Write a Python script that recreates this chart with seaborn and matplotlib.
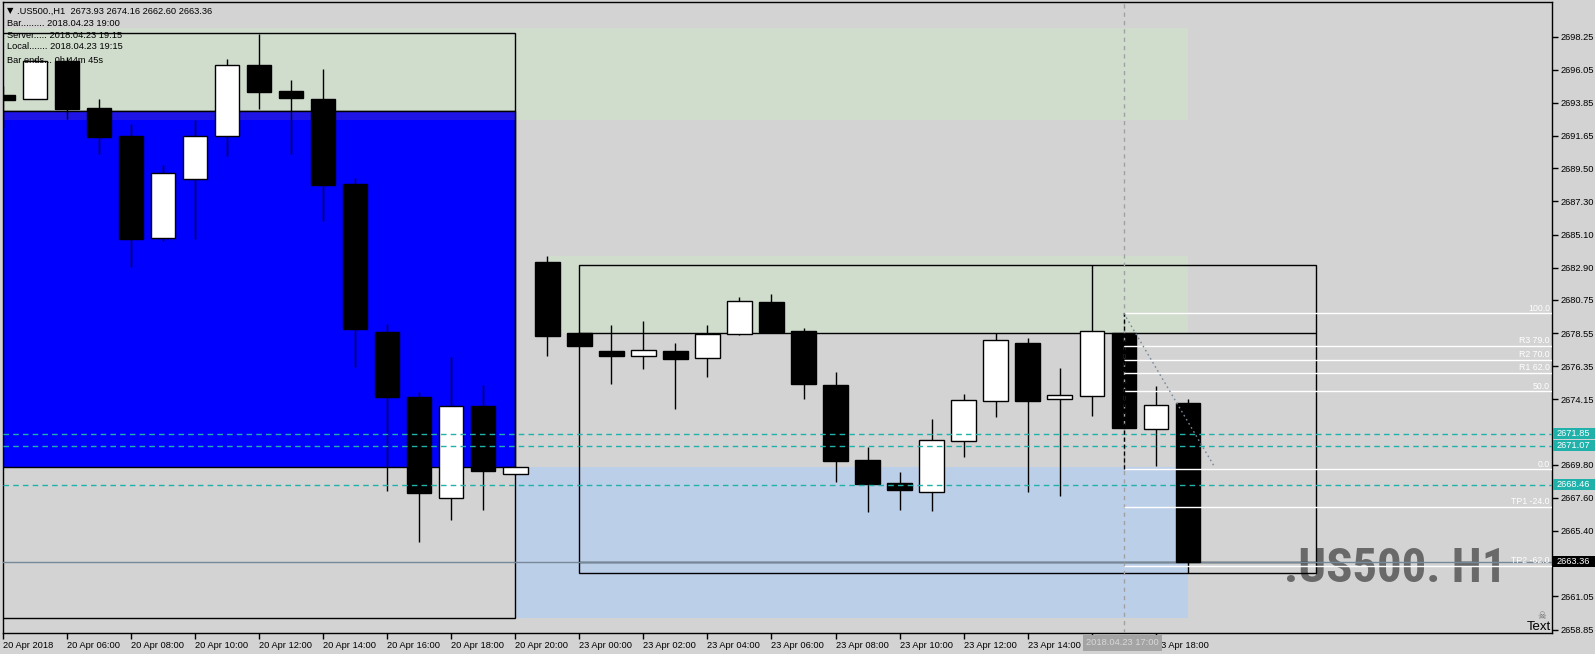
import matplotlib
matplotlib.use("Agg")
import matplotlib.pyplot as plt
import matplotlib.transforms as mtransforms
from matplotlib.patches import Rectangle
from matplotlib import font_manager
import seaborn as sns
import pandas as pd

# ---------------- data ----------------
bar_index = list(range(38))
opens = [2694.34, 2694.08, 2696.65, 2693.51, 2691.62, 2684.85, 2688.81, 2691.67, 2696.36, 2694.63,
         2694.11, 2688.44, 2678.62, 2674.30, 2667.62, 2673.68, 2669.17, 2683.27, 2678.56, 2677.36,
         2677.03, 2677.34, 2676.88, 2678.47, 2680.62, 2678.69, 2675.08, 2670.12, 2668.57, 2668.02,
         2671.40, 2674.06, 2677.92, 2674.15, 2674.35, 2678.54, 2672.15, 2673.93]
highs = [2694.94, 2696.75, 2696.90, 2694.11, 2692.45, 2689.72, 2692.73, 2696.77, 2698.45, 2695.34,
         2696.10, 2688.86, 2679.16, 2674.63, 2676.95, 2675.10, 2669.70, 2683.67, 2678.60, 2679.09,
         2679.35, 2677.89, 2679.09, 2680.95, 2681.15, 2678.89, 2675.96, 2671.00, 2669.32, 2672.84,
         2674.50, 2678.54, 2678.20, 2676.23, 2683.07, 2678.60, 2675.03, 2674.16]
lows = [2692.21, 2694.08, 2692.78, 2690.48, 2682.91, 2684.67, 2684.83, 2690.32, 2693.45, 2690.48,
        2686.02, 2676.31, 2668.05, 2664.68, 2666.16, 2666.82, 2669.10, 2677.02, 2677.70, 2675.17,
        2676.16, 2673.51, 2675.65, 2678.45, 2678.58, 2674.17, 2668.67, 2666.68, 2666.81, 2666.75,
        2670.31, 2672.99, 2668.01, 2667.72, 2673.06, 2672.20, 2669.72, 2662.60]
closes = [2694.06, 2696.60, 2693.45, 2691.59, 2684.83, 2689.17, 2691.62, 2696.34, 2694.58, 2694.20,
          2688.42, 2678.83, 2674.27, 2667.93, 2673.68, 2669.41, 2669.65, 2678.38, 2677.71, 2677.03,
          2677.42, 2676.85, 2678.47, 2680.66, 2678.64, 2675.19, 2670.07, 2668.52, 2668.14, 2671.42,
          2674.08, 2678.09, 2674.06, 2674.41, 2678.67, 2672.26, 2673.75, 2663.36]

tick_bars = [0, 2, 4, 6, 8, 10, 12, 14, 16, 18, 20, 22, 24, 26, 28, 30, 32, 34, 36]
# the 16:00 label is hidden under the crosshair time label in the reference
tick_labels = ["20 Apr 2018", "20 Apr 06:00", "20 Apr 08:00", "20 Apr 10:00", "20 Apr 12:00",
               "20 Apr 14:00", "20 Apr 16:00", "20 Apr 18:00", "20 Apr 20:00", "23 Apr 00:00",
               "23 Apr 02:00", "23 Apr 04:00", "23 Apr 06:00", "23 Apr 08:00", "23 Apr 10:00",
               "23 Apr 12:00", "23 Apr 14:00", "", "23 Apr 18:00"]
price_ticks = [2698.25, 2696.05, 2693.85, 2691.65, 2689.50, 2687.30, 2685.10, 2682.90, 2680.75,
               2678.55, 2676.35, 2674.15, 2671.95, 2669.80, 2667.60, 2665.40, 2663.20, 2661.05, 2658.85]
# ticks hidden under the price labels in the reference
hidden_price_ticks = [2671.95, 2663.20]

fib_levels = [2679.86, 2677.68, 2676.75, 2675.92, 2674.68, 2669.50, 2667.01, 2663.08]
fib_labels = ["100.0", "R3 79.0", "R2 70.0", "R1 62.0", "50.0", "0.0", "TP1 -24.0", "TP2 -62.0"]
fib_bar = 35
teal_levels = [2671.85, 2671.07, 2668.46]
teal_labels = ["2671.85", "2671.07", "2668.46"]
bid_price = 2663.36
bid_label = "2663.36"

# zones: (x0, x1, y0, y1)
green_top = (-2, 37, 2692.73, 2698.83)
blue_zone = (-2, 16, 2669.65, 2693.28)
overlap_strip = (-2, 16, 2692.73, 2693.28)
light_blue_zone = (16, 37, 2659.64, 2669.65)
green_mid = (17, 37, 2678.53, 2683.67)
left_box = (-2, 16, 2659.60, 2698.49)
right_box = (18, 41, 2662.60, 2683.07)
right_box_lines = [2678.53, 2663.36]

header = ".US500.,H1  2673.93 2674.16 2662.60 2663.36"
info_lines = ["Bar......... 2018.04.23 19:00", "Server..... 2018.04.23 19:15",
              "Local....... 2018.04.23 19:15", "Bar ends... 0h 44m 45s"]
crosshair_label = "2018.04.23 17:00"
big_title = ".US500. H1"

df = pd.DataFrame({"i": bar_index, "o": opens, "h": highs, "l": lows, "c": closes})

# ---------------- style ----------------
BG = "#D3D3D3"
GREEN = "#D0DCCC"
LBLUE = "#BCCFE8"
TEAL = "#20B2AA"
SLATE = "#778899"

sns.set_theme(style="white", rc={"axes.facecolor": BG, "figure.facecolor": BG})
plt.rcParams["font.family"] = ["Liberation Sans", "DejaVu Sans"]

W, H = 1595, 654
fig = plt.figure(figsize=(W / 100, H / 100), dpi=100)
ax_l, ax_r, ax_t, ax_b = 2.5, 1552, 2.3, 633
ax = fig.add_axes([ax_l / W, 1 - ax_b / H, (ax_r - ax_l) / W, (ax_b - ax_t) / H])
ax.set_facecolor(BG)
ax.set_xlim(-0.01, 48.37)
ax.set_ylim(2658.62, 2700.53)

def rect(z, **kw):
    x0, x1, y0, y1 = z
    ax.add_patch(Rectangle((x0, y0), x1 - x0, y1 - y0, **kw))

rect(green_top, facecolor=GREEN, edgecolor="none", zorder=1)
rect(green_mid, facecolor=GREEN, edgecolor="none", zorder=1)
rect(light_blue_zone, facecolor=LBLUE, edgecolor="none", zorder=1)
rect(blue_zone, facecolor="#0000FF", edgecolor="black", linewidth=1, zorder=1.2)
rect(overlap_strip, facecolor="#1E14E6", edgecolor="none", zorder=1.3)
ax.hlines([blue_zone[3]], blue_zone[0], blue_zone[1], colors="black", linewidth=1, zorder=1.4)
rect(left_box, fill=False, edgecolor="black", linewidth=1, zorder=3)
rect(right_box, fill=False, edgecolor="black", linewidth=1, zorder=3)
ax.hlines(right_box_lines, right_box[0], right_box[1], colors="black", linewidth=1, zorder=3)

# big watermark text
names = {f.name for f in font_manager.fontManager.ttflist}
big_family = next((n for n in ["Impact", "Liberation Sans Narrow", "Roboto Condensed", "DejaVu Sans"]
                   if n in names), "DejaVu Sans")
bt = ax.text(40.0, 2662.01, big_title, fontsize=40, fontweight="bold", fontstretch="condensed",
             family=big_family, color="#696969", ha="left", va="baseline", zorder=2)
fig.canvas.draw()
bw = bt.get_window_extent().width
bt.set_fontsize(40 * 222 / bw)

# bid line
ax.axhline(bid_price, color=SLATE, linewidth=1, zorder=3.5)

# candles
bodies_bottom = [min(o, c) for o, c in zip(opens, closes)]
bodies_h = [max(abs(c - o), 0.06) for o, c in zip(opens, closes)]
body_cols = ["white" if c > o else "black" for o, c in zip(opens, closes)]
ax.vlines(df["i"], df["l"], df["h"], colors="black", linewidth=1, zorder=4)
ax.bar(df["i"], bodies_h, bottom=bodies_bottom, width=0.765, color=body_cols,
       edgecolor="black", linewidth=1, zorder=5)

# teal dashed lines
for lv in teal_levels:
    ax.axhline(lv, color=TEAL, linewidth=1, linestyle=(0, (4, 3)), zorder=6)

# crosshair vertical
ax.axvline(fib_bar, color="#A0A0A0", linewidth=1, linestyle=(0, (3, 3)), zorder=6)

# fibonacci
ax.hlines(fib_levels, fib_bar, 49, colors="white", linewidth=1, zorder=7)
ax.plot([fib_bar, fib_bar], [fib_levels[5], fib_levels[0]], color="black", linewidth=1,
        linestyle=(0, (3, 2)), zorder=7.5)
ax.plot([fib_bar, 37.85], [fib_levels[0], 2669.6], color=SLATE, linewidth=1,
        linestyle=(0, (1.2, 2.2)), zorder=7.5)
for lv, lb in zip(fib_levels, fib_labels):
    ax.text(0.9987, lv + 0.05, lb, transform=mtransforms.blended_transform_factory(ax.transAxes, ax.transData),
            ha="right", va="bottom", fontsize=6.3, color="white", zorder=8)

# axes / ticks
for s in ax.spines.values():
    s.set_color("black")
    s.set_linewidth(1)
ax.yaxis.tick_right()
ax.set_yticks(price_ticks)
ax.set_yticklabels(["" if v in hidden_price_ticks else f"{v:.2f}" for v in price_ticks])
ax.tick_params(axis="y", right=True, left=False, direction="out", length=4, width=1,
               pad=2, labelsize=6.7, colors="black")
ax.set_xticks(tick_bars)
ax.set_xticklabels(tick_labels, ha="left")
ax.tick_params(axis="x", bottom=True, direction="out", length=4, width=1, pad=1.5,
               labelsize=6.7, colors="black")
ax.grid(False)

# right axis price labels
btr = mtransforms.blended_transform_factory(ax.transAxes, ax.transData)
box_h = 0.73
for lv, lb in zip(teal_levels, teal_labels):
    ax.add_patch(Rectangle((1.0006, lv - box_h / 2), 0.0275, box_h, transform=btr,
                           facecolor=TEAL, edgecolor="none", clip_on=False, zorder=20))
    ax.text(1.0032, lv, lb, transform=btr, ha="left", va="center", fontsize=6.7,
            color="white", clip_on=False, zorder=21)
ax.add_patch(Rectangle((1.0006, bid_price - box_h / 2), 0.0275, box_h, transform=btr,
                       facecolor="black", edgecolor="none", clip_on=False, zorder=20))
ax.text(1.0032, bid_price, bid_label, transform=btr, ha="left", va="center", fontsize=6.7,
        color="white", clip_on=False, zorder=21)

# crosshair time label
bbt = mtransforms.blended_transform_factory(ax.transData, ax.transAxes)
ax.add_patch(Rectangle((33.73, -0.0285), 2.47, 0.0253, transform=bbt, facecolor="#A4A4A4",
                       edgecolor="none", clip_on=False, zorder=20))
ax.text(34.965, -0.0158, crosshair_label, transform=bbt, ha="center", va="center",
        fontsize=6.7, color="#D8D8D8", clip_on=False, zorder=21)

# header info
ax.text(0.0029, 0.9862, "\u25BC", transform=ax.transAxes, ha="left", va="center",
        fontsize=6, color="black", zorder=22, family=["DejaVu Sans"])
ax.text(0.0096, 0.9862, header, transform=ax.transAxes, ha="left", va="center",
        fontsize=6.7, color="black", zorder=22)
for ln, yy in zip(info_lines, [0.9656, 0.9477, 0.9296, 0.9085]):
    ax.text(0.0031, yy, ln, transform=ax.transAxes, ha="left", va="center",
            fontsize=6.7, color="black", zorder=22)

# "Text" object with skull
ax.text(0.9995, 0.0048, "Text", transform=ax.transAxes, ha="right", va="baseline",
        fontsize=9.5, color="black", zorder=22)
ax.text(0.9932, 0.027, "\u2620", transform=ax.transAxes, ha="center", va="center",
        fontsize=7, color="#6E6E6E", zorder=22, family=["DejaVu Sans"])

fig.savefig("out.png", dpi=100, facecolor=BG)
